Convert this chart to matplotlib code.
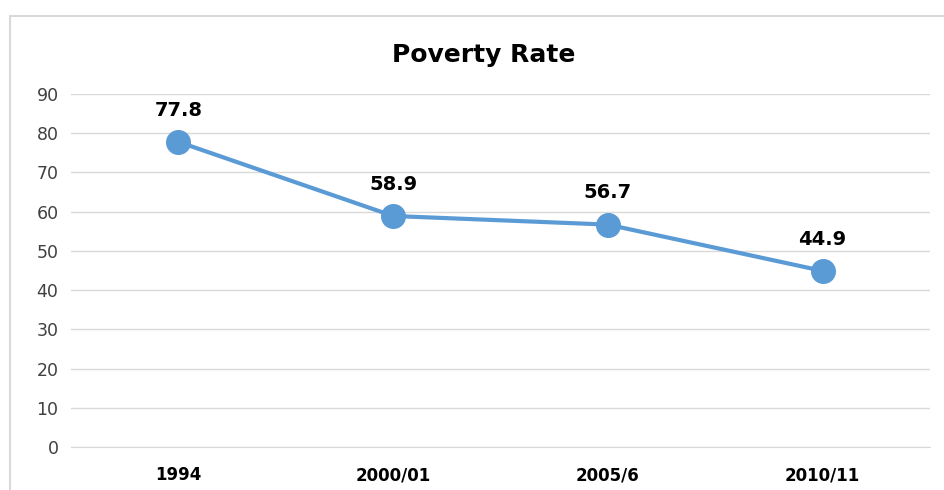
import matplotlib.pyplot as plt
from matplotlib.patches import Rectangle

# chart data
years = ['1994', '2000/01', '2005/6', '2010/11']
rate = [77.8, 58.9, 56.7, 44.9]
yticks = [0, 10, 20, 30, 40, 50, 60, 70, 80, 90]

plt.rcParams['font.family'] = ['DejaVu Sans']

fig = plt.figure(figsize=(9.44, 4.9), dpi=100)
ax = fig.add_axes([71/944, 43/490, (930-71)/944, (447-94)/490])

# outer chart border (runs off the right/bottom edge)
fig.patches.append(Rectangle((10/944, -0.1), 1.1, (490-16)/490 + 0.1,
                             transform=fig.transFigure, fill=False,
                             edgecolor='#d9d9d9', linewidth=1.5))

x = range(len(years))
ax.plot(x, rate, color='#5b9bd5', linewidth=3.0, marker='o', markersize=17)
for xi, v in zip(x, rate):
    ax.annotate(f'{v}', (xi, v), xytext=(0, 16), textcoords='offset points',
                ha='center', va='bottom', fontsize=14, fontweight='bold')

ax.set_xlim(-0.5, 3.5)
ax.set_ylim(0, 90)
ax.set_yticks(yticks)
ax.set_xticks(list(x))
ax.set_xticklabels(years, fontweight='bold', fontsize=12)
ax.tick_params(axis='y', labelsize=12.5, labelcolor='#404040', length=0, pad=9)
ax.tick_params(axis='x', length=0, pad=14)
ax.grid(axis='y', color='#d9d9d9', linewidth=1)
ax.set_axisbelow(True)
for s in ax.spines.values():
    s.set_visible(False)
ax.spines['bottom'].set_visible(True)
ax.spines['bottom'].set_color('#d9d9d9')

fig.text(484/944, 1 - 55/490, 'Poverty Rate', ha='center', va='center',
         fontsize=18, fontweight='bold')

fig.savefig('out.png', dpi=100)
